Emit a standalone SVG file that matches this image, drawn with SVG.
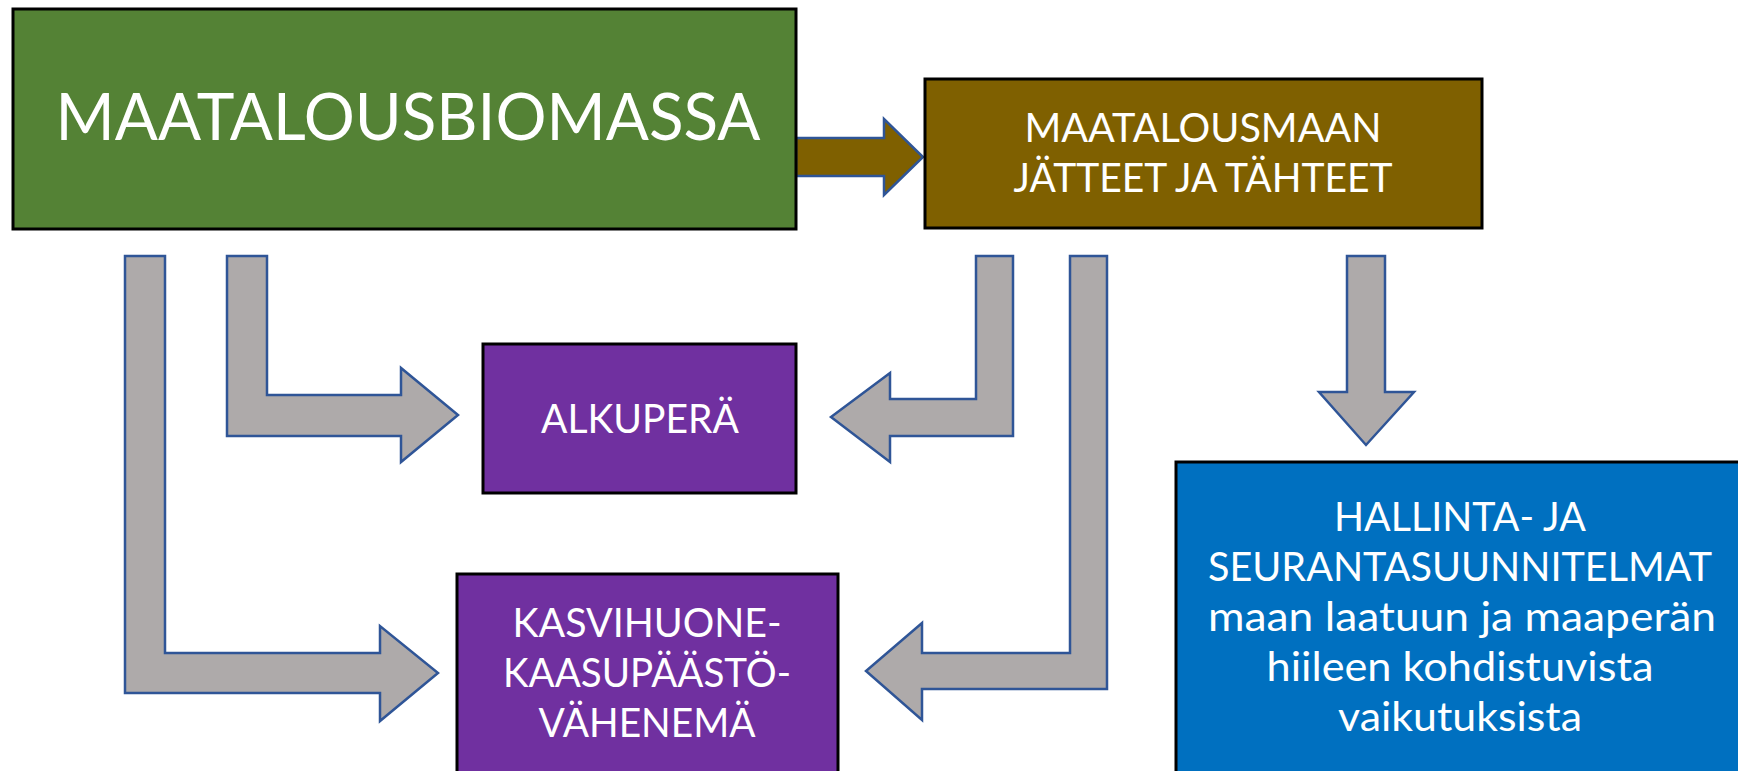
<svg xmlns="http://www.w3.org/2000/svg" width="1738" height="771" viewBox="0 0 1738 771">
<style>
.box{stroke:#000;stroke-width:3}
.arr{fill:#aeaaaa;stroke:#2f5597;stroke-width:2.5;stroke-linejoin:miter}
.t{font-family:Lato,"Open Sans","Liberation Sans",sans-serif;fill:#fff;text-anchor:middle}
</style>
<rect width="1738" height="771" fill="#fff"/>
<g id="connectors">
<path class="arr" style="fill:#7f6000" d="M796,138 H884 V119 L923,157 L884,195 V176 H796 Z"/>
<path class="arr" d="M125,256 H165 V653 H380 V626 L438,673 L380,721 V693 H125 Z"/>
<path class="arr" d="M227,256 H267 V395 H401 V368 L458,415 L401,462 V436 H227 Z"/>
<path class="arr" d="M1013,256 V436 H890 V462 L831,417 L890,373 V399 H976 V256 Z"/>
<path class="arr" d="M1070,256 H1107 V689 H922 V720 L866,671 L922,623 V653 H1070 Z"/>
<path class="arr" d="M1347,256 H1385 V392 H1414 L1366,445 L1319,392 H1347 Z"/>
</g>
<g id="maatalousbiomassa">
<rect class="box" x="13" y="9" width="783" height="220" fill="#548235"/>
<text class="t" x="408" y="140" font-size="66" textLength="705" lengthAdjust="spacingAndGlyphs">MAATALOUSBIOMASSA</text>
</g>
<g id="jatteet">
<rect class="box" x="925" y="79" width="557" height="149" fill="#7f6000"/>
<text class="t" x="1203" y="142" font-size="40" textLength="357" lengthAdjust="spacingAndGlyphs">MAATALOUSMAAN</text>
<text class="t" x="1203" y="192" font-size="40" textLength="379" lengthAdjust="spacingAndGlyphs">JÄTTEET JA TÄHTEET</text>
</g>
<g id="alkupera">
<rect class="box" x="483" y="344" width="313" height="149" fill="#7030a0"/>
<text class="t" x="640" y="433" font-size="41" textLength="198" lengthAdjust="spacingAndGlyphs">ALKUPERÄ</text>
</g>
<g id="kasvihuone">
<rect class="box" x="457" y="574" width="381" height="210" fill="#7030a0"/>
<text class="t" x="647" y="637" font-size="41" textLength="269" lengthAdjust="spacingAndGlyphs">KASVIHUONE-</text>
<text class="t" x="647" y="687" font-size="41" textLength="288" lengthAdjust="spacingAndGlyphs">KAASUPÄÄSTÖ-</text>
<text class="t" x="647" y="737" font-size="41" textLength="217" lengthAdjust="spacingAndGlyphs">VÄHENEMÄ</text>
</g>
<g id="hallinta">
<rect class="box" x="1176" y="462" width="580" height="330" fill="#0070c0"/>
<text class="t" x="1460" y="531" font-size="40" textLength="252" lengthAdjust="spacingAndGlyphs">HALLINTA- JA</text>
<text class="t" x="1460" y="581" font-size="40" textLength="504" lengthAdjust="spacingAndGlyphs">SEURANTASUUNNITELMAT</text>
<text class="t" x="1462" y="631" font-size="40" textLength="508" lengthAdjust="spacingAndGlyphs">maan laatuun ja maaperän</text>
<text class="t" x="1460" y="681" font-size="40" textLength="387" lengthAdjust="spacingAndGlyphs">hiileen kohdistuvista</text>
<text class="t" x="1460" y="731" font-size="40" textLength="244" lengthAdjust="spacingAndGlyphs">vaikutuksista</text>
</g>
</svg>
